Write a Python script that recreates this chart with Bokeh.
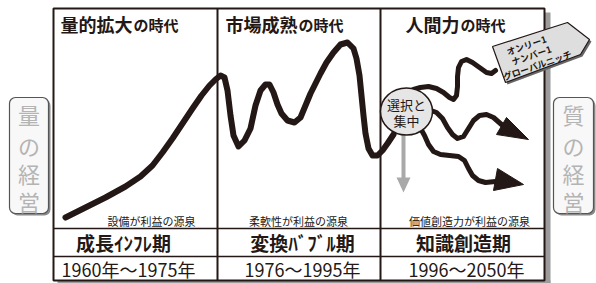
from bokeh.plotting import figure
from bokeh.models import Range1d
from bokeh.embed import file_html
from bokeh.resources import INLINE
from bokeh.core.properties import value

# ---------------- data ----------------
era_titles = ["量的拡大", "市場成熟", "人間力"]
era_suffix = ["の時代", "の時代", "の時代"]
sources = ["設備が利益の源泉", "柔軟性が利益の源泉", "価値創造力が利益の源泉"]
periods = ["成長ｲﾝﾌﾚ期", "変換ﾊﾞﾌﾞﾙ期", "知識創造期"]
years = ["1960年～1975年", "1976～1995年", "1996～2050年"]
left_label = ["量", "の", "経", "営"]
right_label = ["質", "の", "経", "営"]
circle_label = ["選択と", "集中"]
banner_label = ["オンリー1", "ナンバー1", "グローバルニッチ"]

# main curve
curve_x = [65, 85, 105, 125, 140, 152, 162, 172, 182, 192, 201, 209, 215, 220,
           224, 227, 230, 233, 238, 244, 250, 255, 260, 265, 269, 273, 277, 281,
           287, 294, 300, 305, 310, 315, 320, 326, 333, 340, 347, 353, 356, 359,
           361, 363, 365, 368, 372, 377, 382, 387, 393]
curve_y = [217, 207, 197, 186, 176, 165, 152, 138, 123, 108, 95, 85, 79, 75,
           77, 90, 115, 135, 146, 140, 128, 105, 90, 84, 84, 92, 104, 113,
           120, 122, 117, 105, 93, 83, 73, 62, 52, 44, 42, 48, 58, 75,
           95, 115, 133, 148, 155, 155, 150, 143, 134]

# waves leaving the "選択と集中" circle
wave_up_x = [413, 420, 428, 436, 443, 449, 453, 456, 457, 457, 458, 461, 466, 472, 479, 486, 491, 495]
wave_up_y = [89, 87, 86, 88, 92, 97, 99, 95, 86, 76, 67, 61, 59, 62, 67, 72, 73, 70]
wave_mid_x = [428, 436, 442, 447, 452, 457, 463, 468, 473, 479, 486, 493, 501]
wave_mid_y = [109, 112, 118, 127, 134, 138, 136, 128, 120, 115, 114, 117, 124]
wave_low_x = [419, 424, 428, 433, 440, 449, 458, 464, 468, 472, 478, 485, 495]
wave_low_y = [126, 135, 144, 151, 154, 155, 156, 160, 168, 175, 180, 182, 181]
head_mid_x = [506, 528, 496]
head_mid_y = [117, 139, 134]
head_low_x = [497, 523, 493]
head_low_y = [168, 184, 190]

banner_x = [492, 567, 589, 580, 505]
banner_y = [46, 22, 39, 54, 82]

col_edges = [53, 217, 380, 544]

INK = "#231815"
GREY_TXT = "#b4b4b4"
JP = value("Noto Sans CJK JP")

p = figure(width=596, height=283, x_range=Range1d(0, 596), y_range=Range1d(283, 0),
           output_backend="svg", toolbar_location=None, min_border=0)
p.axis.visible = False
p.grid.visible = False
p.outline_line_color = None
p.background_fill_color = "white"
p.border_fill_color = "white"

# frame shadow and frame
p.quad(left=[col_edges[-1], col_edges[0] + 4], right=[col_edges[-1] + 6, col_edges[-1] + 6],
       top=[12, 280], bottom=[283, 283], fill_color="#9c9c9c", line_color=None)
p.quad(left=col_edges[0], right=col_edges[-1], top=8, bottom=280,
       fill_color="white", line_color=INK, line_width=2)
p.segment(x0=col_edges[1:3], y0=[8, 8], x1=col_edges[1:3], y1=[280, 280],
          line_color=INK, line_width=2)
p.segment(x0=[col_edges[0]] * 2, y0=[228, 256], x1=[col_edges[-1]] * 2, y1=[228, 256],
          line_color=INK, line_width=1.5)

# side boxes
p.quad(left=[11, 555], right=[50, 595], top=[99, 99], bottom=[215, 215],
       fill_color="#8a8a8a", line_color=None, border_radius=6)
p.quad(left=[9, 553], right=[48, 593], top=[97, 97], bottom=[213, 213],
       fill_color="#f8f8f8", line_color="#555555", line_width=1.2, border_radius=6)
lab_y = [113, 144, 172, 200]
p.text(x=[28.5] * 4, y=lab_y, text=left_label, text_font=JP, text_font_size="22px",
       text_color=GREY_TXT, text_align="center", text_baseline="middle")
p.text(x=[573] * 4, y=lab_y, text=right_label, text_font=JP, text_font_size="22px",
       text_color=GREY_TXT, text_align="center", text_baseline="middle")

# titles
p.text(x=[60, 225, 405], y=[23, 23, 23], text=era_titles, text_font=JP,
       text_font_size="18px", text_font_style="bold", text_color=INK,
       text_align="left", text_baseline="middle")
p.text(x=[133, 298, 460], y=[24, 24, 24], text=era_suffix, text_font=JP,
       text_font_size="15px", text_font_style="bold", text_color=INK,
       text_align="left", text_baseline="middle")

# bottom texts
p.text(x=[151, 298, 469], y=[220, 220, 220], text=sources, text_font=JP,
       text_font_size="11px", text_color=INK, text_align="center", text_baseline="middle")
p.text(x=[123, 302, 463], y=[242, 242, 242], text=periods, text_font=JP,
       text_font_size="19px", text_font_style="bold", text_color=INK,
       text_align="center", text_baseline="middle")
p.text(x=[128, 302, 466], y=[268, 268, 268], text=years, text_font=JP,
       text_font_size="18px", text_color=INK, text_align="center", text_baseline="middle")

# main curve
p.line(curve_x, curve_y, line_color=INK, line_width=6, line_cap="round", line_join="round")

# grey downward arrow
p.segment(x0=[403], y0=[130], x1=[403], y1=[178], line_color="#a9a9a9", line_width=4)
p.patch([396, 410, 403], [177, 177, 192], fill_color="#a9a9a9", line_color=None)

# waves
for wx, wy in [(wave_up_x, wave_up_y), (wave_mid_x, wave_mid_y), (wave_low_x, wave_low_y)]:
    p.line(wx, wy, line_color=INK, line_width=5, line_cap="round", line_join="round")
p.patches([head_mid_x, head_low_x], [head_mid_y, head_low_y], fill_color=INK, line_color=INK)

# banner
p.patch([x + 2 for x in banner_x], [y + 2 for y in banner_y], fill_color="#666666", line_color=None)
p.patch(banner_x, banner_y, fill_color="#dedede", line_color=INK, line_width=1.2)
p.text(x=[526, 531, 537], y=[45, 55, 65], text=banner_label, text_font=JP,
       text_font_size="9px", text_font_style="bold", text_color=INK, angle=0.33,
       text_align="center", text_baseline="middle")

# circle
p.ellipse(x=[406], y=[111], width=[52], height=[47], fill_color="#e6e6e6",
          line_color=INK, line_width=1.5)
p.text(x=[406, 406], y=[104, 120], text=circle_label, text_font=JP, text_font_size="13px",
       text_color=INK, text_align="center", text_baseline="middle")

open("out.html", "w").write(file_html(p, INLINE))
